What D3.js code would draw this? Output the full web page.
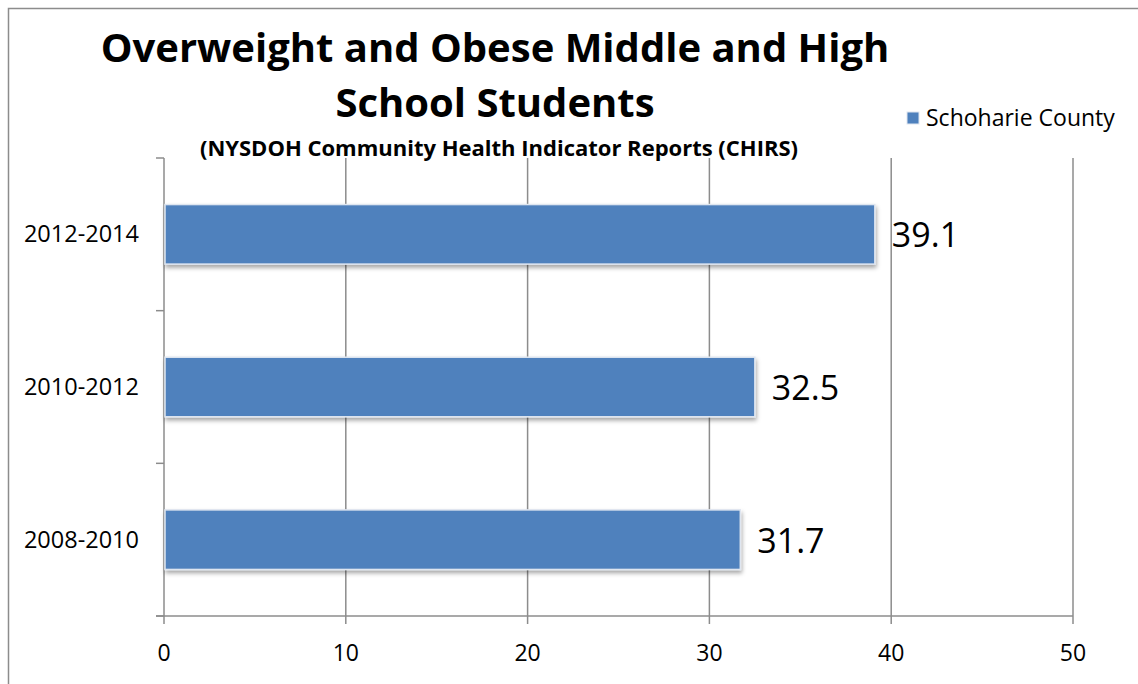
<!DOCTYPE html>
<html><head><meta charset="utf-8">
<script src="https://cdn.jsdelivr.net/npm/d3@7"></script>
<style>body{margin:0;background:#fff}svg{display:block}</style>
</head><body>
<script>
const categories = ["2012-2014","2010-2012","2008-2010"];
const values = [39.1, 32.5, 31.7];
const xTicks = [0,10,20,30,40,50];
const seriesName = "Schoharie County";
const titleLines = ["Overweight and Obese Middle and High","School Students"];
const subtitle = "(NYSDOH Community Health Indicator Reports (CHIRS)";

(function(){
const W=1138,H=684;
const svg=d3.select("body").append("svg").attr("width",W).attr("height",H);
const font="'Open Sans', 'Noto Sans', sans-serif";
svg.append("path").attr("d",`M8.5,${H} V8.5 H${W}`).attr("fill","none").attr("stroke","#8c8c8c").attr("stroke-width",1.5);

const pL=164,pR=1073,pT=158,pB=616;
const x=d3.scaleLinear().domain([0,50]).range([pL,pR]);
const y=d3.scaleBand().domain(categories).range([pT,pB]).paddingInner(0.61).paddingOuter(0.305);

const defs=svg.append("defs");
const f=defs.append("filter").attr("id","sh").attr("x","-5%").attr("y","-20%").attr("width","110%").attr("height","160%");
f.append("feDropShadow").attr("dx",1).attr("dy",3).attr("stdDeviation",2).attr("flood-color","#000").attr("flood-opacity",0.35);

svg.append("g").selectAll("line").data(xTicks.slice(1)).join("line")
 .attr("x1",d=>x(d)).attr("x2",d=>x(d)).attr("y1",pT).attr("y2",pB+8)
 .attr("stroke","#8c8c8c").attr("stroke-width",1.5);
svg.append("line").attr("x1",pL).attr("x2",pL).attr("y1",pT).attr("y2",pB+8).attr("stroke","#8c8c8c").attr("stroke-width",1.5);
const bounds=d3.range(categories.length+1).map(i=>pT+i*(pB-pT)/categories.length);
svg.append("g").selectAll("line").data(bounds).join("line")
 .attr("x1",pL-8).attr("x2",pL).attr("y1",d=>d).attr("y2",d=>d).attr("stroke","#8c8c8c").attr("stroke-width",1.5);
svg.append("line").attr("x1",pL-8).attr("x2",pR).attr("y1",pB).attr("y2",pB).attr("stroke","#8c8c8c").attr("stroke-width",1.5);
svg.append("g").selectAll("text").data(xTicks).join("text")
 .attr("x",d=>x(d)).attr("y",pB+45).attr("text-anchor","middle")
 .attr("font-family",font).attr("font-size",23).attr("fill","#000").text(d=>d);
svg.append("g").selectAll("text").data(categories).join("text")
 .attr("x",pL-25).attr("y",d=>y(d)+y.bandwidth()/2+8).attr("text-anchor","end")
 .attr("font-family",font).attr("font-size",23.5).attr("fill","#000").text(d=>d);
svg.append("g").selectAll("rect").data(values).join("rect")
 .attr("x",x(0)+1).attr("y",(d,i)=>y(categories[i]))
 .attr("width",d=>x(d)-x(0)-1).attr("height",y.bandwidth())
 .attr("fill","#4f81bd").attr("stroke","#dfe6f0").attr("stroke-width",1.5).attr("filter","url(#sh)");
svg.append("g").selectAll("text").data(values).join("text")
 .attr("x",d=>x(d)+17).attr("y",(d,i)=>y(categories[i])+y.bandwidth()/2+13)
 .attr("font-family",font).attr("font-size",34).attr("fill","#000").text(d=>d.toFixed(1));
svg.append("g").selectAll("text").data(titleLines).join("text")
 .attr("x",495).attr("y",(d,i)=>62+i*55).attr("text-anchor","middle")
 .attr("font-family",font).attr("font-weight","bold").attr("font-size",40).attr("fill","#000").text(d=>d);
svg.append("text").attr("x",499).attr("y",156).attr("text-anchor","middle")
 .attr("font-family",font).attr("font-weight","bold").attr("font-size",22).attr("fill","#000").text(subtitle);
svg.append("rect").attr("x",907).attr("y",112).attr("width",12).attr("height",12).attr("fill","#4f81bd").attr("stroke","#dfe6f0");
svg.append("text").attr("x",926).attr("y",126).attr("font-family",font).attr("font-size",23).attr("fill","#000").text(seriesName);
})();
</script>
</body></html>
